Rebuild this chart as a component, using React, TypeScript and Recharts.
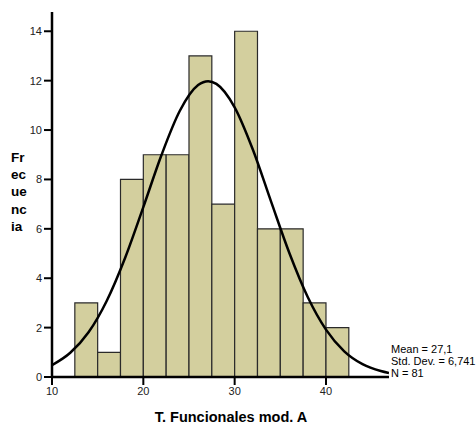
import React from "react";
import {
  ComposedChart,
  Line,
  XAxis,
  YAxis,
  ReferenceArea,
} from "recharts";

// Histogram bins (start of each 2.5-wide bin) and counts
const binStarts = [12.5, 15, 17.5, 20, 22.5, 25, 27.5, 30, 32.5, 35, 37.5, 40];
const binWidth = 2.5;
const counts = [3, 1, 8, 9, 9, 13, 7, 14, 6, 6, 3, 2];

// Normal curve points
const curveX = [10, 12, 14, 16, 18, 20, 22, 24, 26, 27.1, 28, 30, 32, 34, 36, 38, 40, 42, 44, 46, 46.9];
const curveY = [0.48, 0.98, 1.81, 3.09, 4.82, 6.88, 9.0, 10.78, 11.82, 11.98, 11.87, 10.92, 9.2, 7.09, 5.01, 3.24, 1.92, 1.04, 0.52, 0.24, 0.16];

const xTicks = [10, 20, 30, 40];
const yTicks = [0, 2, 4, 6, 8, 10, 12, 14];
const yLabelLines = ["Fr", "ec", "ue", "nc", "ia"];
const statLines = ["Mean = 27,1", "Std. Dev. = 6,741", "N = 81"];
const xTitle = "T. Funcionales mod. A";

const curveData = curveX.map((x, i) => ({ x, y: curveY[i] }));

const FONT = "Arial, 'Liberation Sans', sans-serif";

export default function App() {
  return (
    <div style={{ position: "absolute", left: 0, top: 0, background: "#fff" }}>
      <ComposedChart
        width={476}
        height={424}
        data={curveData}
        margin={{ top: 12, right: 87, bottom: 17, left: 12 }}
      >
        <XAxis
          dataKey="x"
          type="number"
          domain={[10, 46.9]}
          ticks={xTicks}
          allowDataOverflow
          height={30}
          tickSize={8}
          tickMargin={2}
          axisLine={{ stroke: "#000", strokeWidth: 2.5 }}
          tickLine={{ stroke: "#000", strokeWidth: 2 }}
          tick={{ fill: "#222", fontSize: 11, fontFamily: FONT }}
        />
        <XAxis
          xAxisId="top"
          orientation="top"
          dataKey="x"
          type="number"
          domain={[10, 46.9]}
          height={0}
          tick={false}
          tickLine={false}
          axisLine={{ stroke: "#444", strokeWidth: 1.5 }}
        />
        <YAxis
          type="number"
          domain={[0, 14.78]}
          ticks={yTicks}
          allowDataOverflow
          width={40}
          tickSize={8}
          tickMargin={2}
          axisLine={{ stroke: "#000", strokeWidth: 2.5 }}
          tickLine={{ stroke: "#000", strokeWidth: 2 }}
          tick={{ fill: "#222", fontSize: 11, fontFamily: FONT }}
        />
        <YAxis
          yAxisId="right"
          orientation="right"
          type="number"
          domain={[0, 14.78]}
          width={0}
          tick={false}
          tickLine={false}
          axisLine={{ stroke: "#222", strokeWidth: 1.5 }}
        />
        {binStarts.map((s, i) => (
          <ReferenceArea
            key={s}
            x1={s}
            x2={s + binWidth}
            y1={0}
            y2={counts[i]}
            fill="#D3CF9E"
            fillOpacity={1}
            stroke="#2a2a2a"
            strokeWidth={1.2}
          />
        ))}
        <Line
          dataKey="y"
          type="monotone"
          stroke="#000"
          strokeWidth={2.5}
          dot={false}
          activeDot={false}
          isAnimationActive={false}
        />
        <text fontFamily={FONT} fontSize={13.5} fontWeight="bold" fill="#000">
          {yLabelLines.map((l, i) => (
            <tspan key={l} x={11} y={162 + i * 17.2}>
              {l}
            </tspan>
          ))}
        </text>
        <text fontFamily={FONT} fontSize={11} fill="#000">
          {statLines.map((l, i) => (
            <tspan key={l} x={391} y={353 + i * 12}>
              {l}
            </tspan>
          ))}
        </text>
        <text
          x={231}
          y={422}
          textAnchor="middle"
          fontFamily={FONT}
          fontSize={14.5}
          fontWeight="bold"
          fill="#000"
        >
          {xTitle}
        </text>
      </ComposedChart>
    </div>
  );
}
